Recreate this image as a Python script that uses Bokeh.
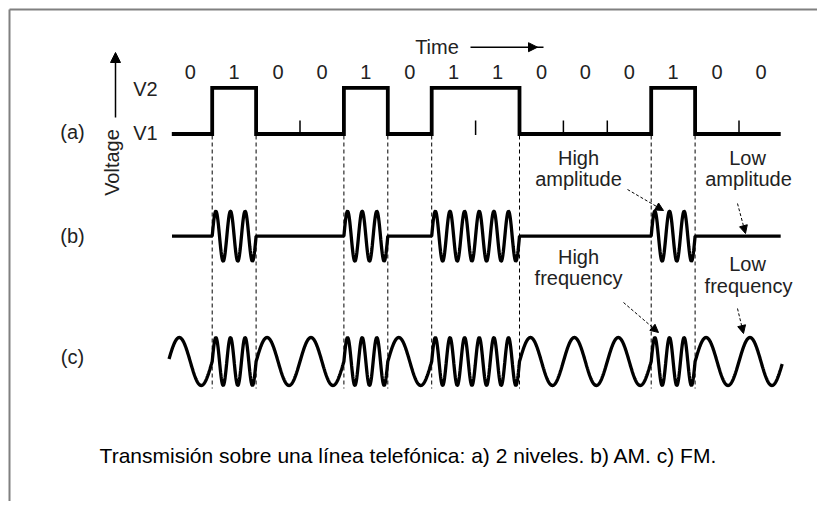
import numpy as np
from bokeh.plotting import figure
from bokeh.models import Range1d, Arrow, NormalHead
from bokeh.core.properties import value
from bokeh.embed import file_html
from bokeh.resources import INLINE

# ---- data ----
bits = [0, 1, 0, 0, 1, 0, 1, 1, 0, 0, 0, 1, 0, 0]
bit_labels = [str(b) for b in bits]
row_labels = ["(a)", "(b)", "(c)"]
level_labels = ["V2", "V1"]
am_cycles = {0: 0, 1: 3}     # cycles per bit (0 = flat line)
fm_cycles = {0: 1, 1: 3}
caption = "Transmisión sobre una línea telefónica: a) 2 niveles. b) AM. c) FM."

# ---- layout (screen-like coordinates) ----
X0, BW = 167.8, 43.9          # start of bit 0 and bit width
YV1, YV2 = 133.5, 87.3        # square wave levels
YB, AB = 235.7, 25            # AM baseline / amplitude
YC, AC = 361.0, 24            # FM centre / amplitude
FONT = value("Liberation Sans")
LBL = "20px"
ANN = "20px"

def tx(t):
    return X0 + np.asarray(t) * BW

p = figure(width=817, height=501, output_backend="svg", toolbar_location=None,
           x_range=Range1d(0, 817), y_range=Range1d(501, 0),
           x_axis_type=None, y_axis_type=None, min_border=0,
           outline_line_color=None, background_fill_color="white",
           border_fill_color="white")
p.grid.visible = False

# frame (top + left edges visible)
p.line([9, 820], [9, 9], line_color="#808080", line_width=2)
p.line([9, 9], [9, 501], line_color="#808080", line_width=2)

# ---- (a) two-level signal ----
sx, sy = [], []
for i, b in enumerate(bits):
    lev = YV2 if b else YV1
    sx += [i, i + 1]
    sy += [lev, lev]
sx[0] = 0.08
sx[-1] = 13.95
p.line(tx(sx), sy, line_color="black", line_width=3.8, line_join="miter")

# ticks at boundaries without transitions, dashed lines at transitions
tick_x = [i for i in range(1, len(bits)) if bits[i] == bits[i - 1]]
trans_x = [i for i in range(1, len(bits)) if bits[i] != bits[i - 1]]
p.segment(x0=tx(tick_x), y0=[120] * len(tick_x), x1=tx(tick_x), y1=[134.5] * len(tick_x),
          line_color="black", line_width=1.5)
p.segment(x0=tx(trans_x), y0=[135] * len(trans_x), x1=tx(trans_x), y1=[388] * len(trans_x),
          line_color="black", line_width=1, line_dash="4 3")

# ---- (b) AM ----
N = 120
ax, ay = [], []
for i, b in enumerate(bits):
    t = np.linspace(0, 1, N)
    c = am_cycles[b]
    y = YB - AB * np.sin(2 * np.pi * c * t) if c else np.full(N, YB)
    ax += list(i + t)
    ay += list(y)
ax = np.array(ax); ay = np.array(ay)
m = (ax >= 0.08) & (ax <= 13.95)
p.line(tx(ax[m]), ay[m], line_color="black", line_width=3.3)

# ---- (c) FM ----
fx, fy = [], []
for i, b in enumerate(bits):
    t = np.linspace(0, 1, N)
    c = fm_cycles[b]
    fx += list(i + t)
    fy += list(YC - AC * np.sin(2 * np.pi * c * t))
fx = np.array(fx); fy = np.array(fy)
m = (fx >= 0.01) & (fx <= 13.99)
p.line(tx(fx[m]), fy[m], line_color="black", line_width=3.3)

# ---- texts ----
def txt(x, y, s, size=LBL, color="#222222", angle=0, align="center"):
    p.text(x=[x], y=[y], text=[s], text_font=FONT, text_font_size=size,
           text_color=color, text_align=align, text_baseline="middle", angle=angle)

bx = tx(np.arange(len(bits)) + 0.5)
p.text(x=bx, y=[71.7] * len(bits), text=bit_labels, text_font=FONT, text_font_size=LBL,
       text_color="#222222", text_align="center", text_baseline="middle")

txt(436.5, 46.7, "Time")
txt(145, 88, level_labels[0])
txt(145, 132, level_labels[1])
txt(72, 131.5, row_labels[0])
txt(72, 235.5, row_labels[1])
txt(72, 356.5, row_labels[2])
txt(111, 162, "Voltage", angle=np.pi / 2)

txt(578, 157, "High", size=ANN)
txt(578, 178, "amplitude", size=ANN)
txt(747, 157, "Low", size=ANN)
txt(748, 178, "amplitude", size=ANN)
txt(578, 256, "High", size=ANN)
txt(578, 277, "frequency", size=ANN)
txt(747, 263, "Low", size=ANN)
txt(748, 285, "frequency", size=ANN)

txt(408, 455, caption, size="21px", color="black")

# ---- arrows ----
p.add_layout(Arrow(end=NormalHead(size=10, fill_color="black", line_color="black"),
                   x_start=115, y_start=117, x_end=115, y_end=52,
                   line_color="black", line_width=1.5))
p.add_layout(Arrow(end=NormalHead(size=9, fill_color="black", line_color="black"),
                   x_start=470, y_start=46.7, x_end=537, y_end=46.7,
                   line_color="black", line_width=1.5))
p.line([535, 543], [46.7, 46.7], line_color="black", line_width=1.5)

for (xs, ys, xe, ye) in [(627, 189, 663, 210), (737, 203, 745, 233),
                         (623, 302, 658, 332), (737, 308, 743, 333)]:
    p.add_layout(Arrow(end=NormalHead(size=8, fill_color="black", line_color="black"),
                       x_start=xs, y_start=ys, x_end=xe, y_end=ye,
                       line_color="black", line_width=1, line_dash="3 2"))

open("out.html", "w").write(file_html(p, INLINE))
